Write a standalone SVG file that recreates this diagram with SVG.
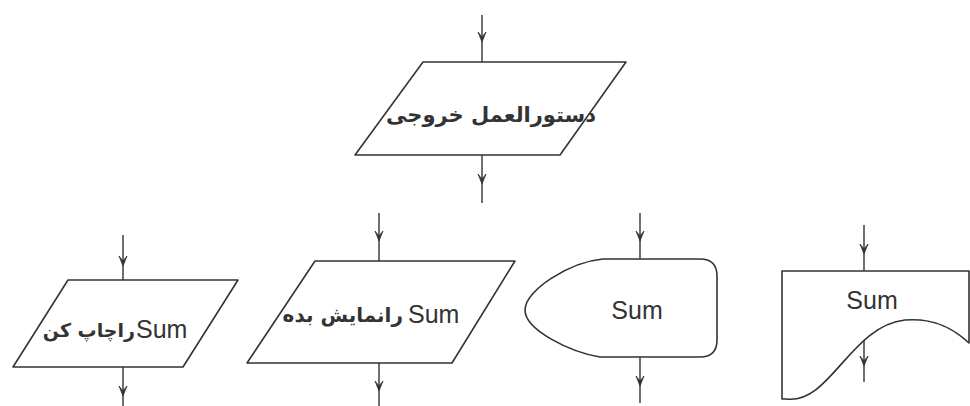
<svg xmlns="http://www.w3.org/2000/svg" width="970" height="406" viewBox="0 0 970 406">
<defs>
<marker id="ah" markerWidth="10" markerHeight="12" refX="5" refY="7" orient="0" markerUnits="userSpaceOnUse" viewBox="0 0 10 12">
<path d="M1,1 L5,11 L9,1 L5,6 Z" fill="#333" stroke="#333" stroke-width="0.8" stroke-linejoin="round"/>
</marker>
<style>
.shape{fill:#fff;stroke:#333;stroke-width:1.6;stroke-linejoin:round}
.conn{fill:none;stroke:#333;stroke-width:1.4;marker-mid:url(#ah)}
.lat{font-family:"Liberation Sans",Arial,sans-serif;font-size:25px;fill:#333}
.ar{font-family:"DejaVu Sans","Noto Sans",sans-serif;font-weight:bold;fill:#333}
</style>
</defs>
<rect width="970" height="406" fill="#fff"/>
<g id="connectors">
<path class="conn" d="M482,15 L482,38 L482,62"/>
<path class="conn" d="M482,155 L482,180 L482,203"/>
<path class="conn" d="M123,235 L123,262 L123,280"/>
<path class="conn" d="M123,367 L123,392 L123,406"/>
<path class="conn" d="M379,213 L379,237 L379,261"/>
<path class="conn" d="M379,363 L379,387 L379,406"/>
<path class="conn" d="M640,213 L640,237 L640,259"/>
<path class="conn" d="M640,357 L640,382 L640,403"/>
<path class="conn" d="M864,225 L864,250 L864,271"/>
<path class="conn" d="M864,337 L864,362 L864,382"/>
</g>
<g id="output-top">
<polygon class="shape" points="423,62 626,62 560,155 355,155"/>
<text class="ar" x="491" y="122" font-size="21" text-anchor="middle">دستورالعمل خروجی</text>
</g>
<g id="print-sum">
<polygon class="shape" points="68,280 238,280 183,367 13,367"/>
<text class="ar" x="135" y="337" font-size="19" text-anchor="end">راچاپ کن</text>
<text class="lat" x="136" y="338">Sum</text>
</g>
<g id="show-sum">
<polygon class="shape" points="315,261 515,261 452,363 247,363"/>
<text class="ar" x="403" y="322" font-size="20" text-anchor="end">رانمایش بده</text>
<text class="lat" x="408" y="323">Sum</text>
</g>
<g id="display-sum">
<path class="shape" d="M603,259 L700,259 Q717,259 717,276 L717,340 Q717,357 700,357 L600,357 C570,352 525,330 525,310 C525,290 570,262 603,259 Z"/>
<text class="lat" x="637" y="319" text-anchor="middle">Sum</text>
</g>
<g id="document-sum">
<path class="shape" d="M782,271 L969,271 L969,343 C950,325 930,318 905,320 C850,326 830,405 786,399 L782,399 Z"/>
<text class="lat" x="872" y="309" text-anchor="middle">Sum</text>
</g>
</svg>
